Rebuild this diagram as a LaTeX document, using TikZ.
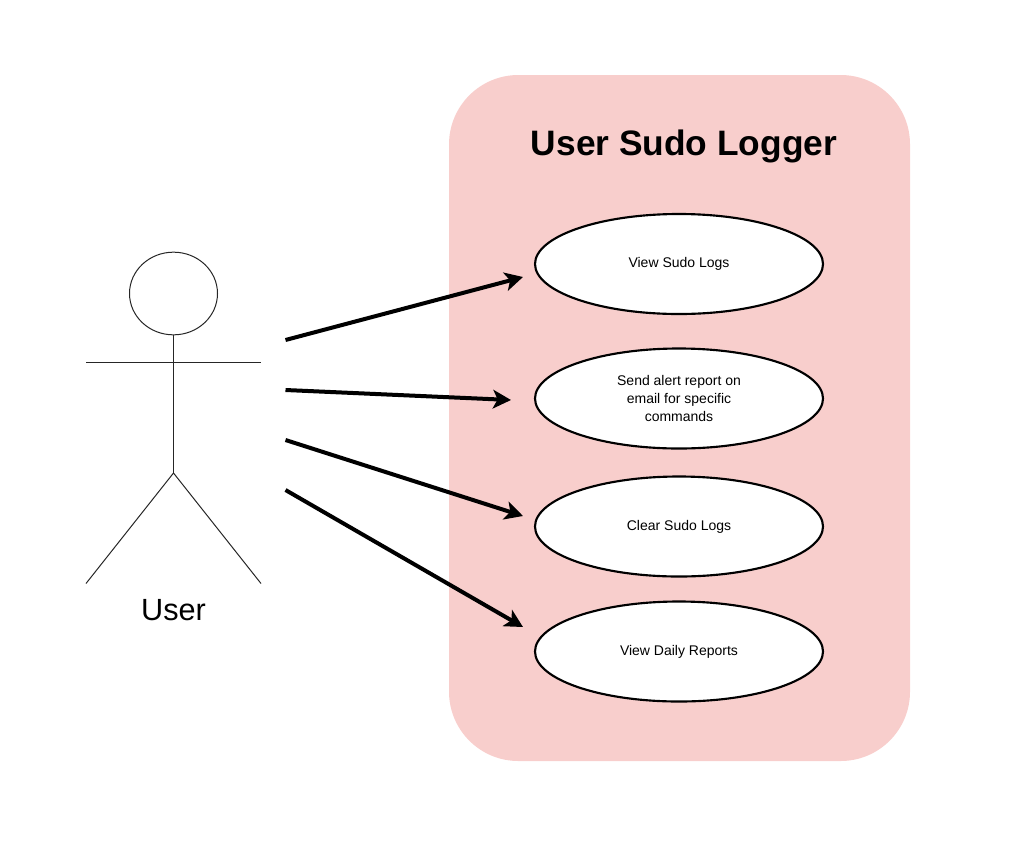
\documentclass[tikz,border=0pt]{standalone}
\usepackage{fontspec}
\setmainfont{Liberation Sans}
\usetikzlibrary{arrows.meta,shapes.geometric}
\definecolor{panelred}{HTML}{F8CECC}
\tikzset{
  usecase/.style={draw, ellipse, fill=white, line width=1.6pt, minimum width=216pt, minimum height=75pt, inner sep=0pt, align=center, font=\fontsize{10.5}{13.5}\selectfont},
  actorline/.style={line width=0.75pt, draw=black!85},
  link/.style={line width=3pt, -{Stealth[length=13.5pt, width=14pt, inset=3.5pt]}}
}
\begin{document}
\begin{tikzpicture}[x=0.75pt, y=-0.75pt]
  \useasboundingbox (0,0) rectangle (1009,850);

  \node[fill=panelred, rounded corners=52pt, minimum width=345.75pt, minimum height=514.5pt, inner sep=0pt] (panel) at (679.5,418) {};
  \node[font=\fontsize{26.5}{30}\selectfont\bfseries] (title) at (684,146) {User Sudo Logger};

  \node[usecase] (logs) at (679,264) {View Sudo Logs};
  \node[usecase] (alert) at (679,398.5) {Send alert report on\\email for specific\\commands};
  \node[usecase] (clear) at (679,526.5) {Clear Sudo Logs};
  \node[usecase] (daily) at (679,651.5) {View Daily Reports};

  % actor
  \node[draw, ellipse, actorline, minimum width=66pt, minimum height=62pt, inner sep=0pt] (head) at (173.5,293.5) {};
  \coordinate (hip) at (173.5,473);
  \coordinate (armL) at (86,362.5);
  \coordinate (armR) at (261,362.5);
  \coordinate (legL) at (86,583.5);
  \coordinate (legR) at (261,583.5);
  \draw[actorline] (head.south) -- (hip);
  \draw[actorline] (armL) -- (armR);
  \draw[actorline] (legL) -- (hip) -- (legR);
  \node[font=\fontsize{23}{27}\selectfont] (user) at (173.5,610) {User};

  % arrows
  \coordinate (from1) at (285.5,340);
  \coordinate (from2) at (285.5,390);
  \coordinate (from3) at (285.5,440);
  \coordinate (from4) at (285.5,490);
  \coordinate (to1) at (523,277);
  \coordinate (to2) at (511,400);
  \coordinate (to3) at (523,516);
  \coordinate (to4) at (523,627);
  \draw[link] (from1) -- (to1);
  \draw[link] (from2) -- (to2);
  \draw[link] (from3) -- (to3);
  \draw[link] (from4) -- (to4);
\end{tikzpicture}
\end{document}
